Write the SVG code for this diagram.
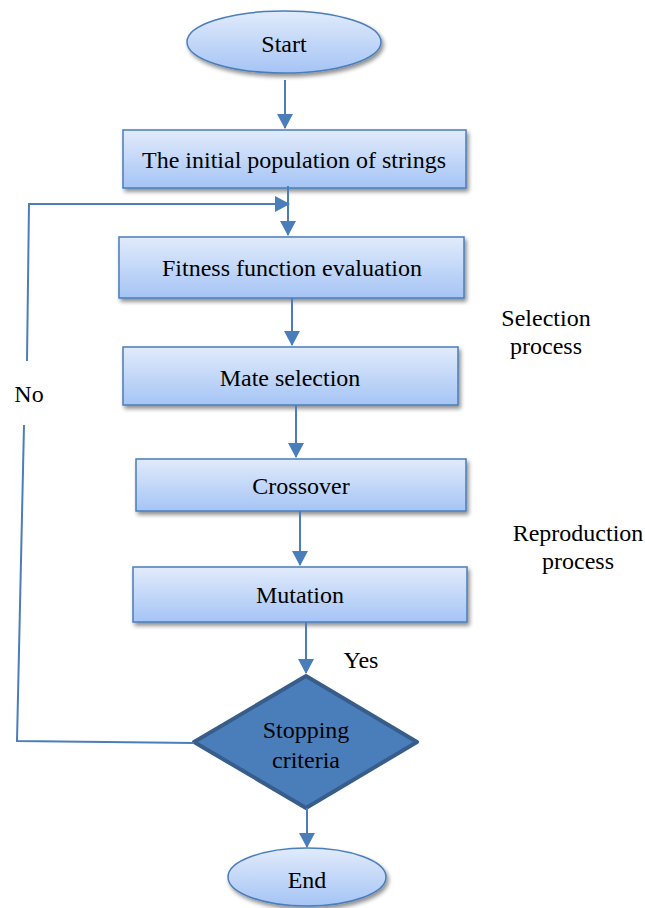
<svg xmlns="http://www.w3.org/2000/svg" width="645" height="908" viewBox="0 0 645 908">
<defs>
<linearGradient id="g" x1="0" y1="0" x2="0" y2="1">
<stop offset="0" stop-color="#e1ebfb"/>
<stop offset="1" stop-color="#a5c4f5"/>
</linearGradient>
<filter id="sh" x="-10%" y="-20%" width="125%" height="150%">
<feGaussianBlur in="SourceAlpha" stdDeviation="2"/>
<feOffset dx="2" dy="3" result="b"/>
<feComponentTransfer><feFuncA type="linear" slope="0.45"/></feComponentTransfer>
<feMerge><feMergeNode/><feMergeNode in="SourceGraphic"/></feMerge>
</filter>
<marker id="ah" markerWidth="16" markerHeight="16" refX="14" refY="8" orient="auto" markerUnits="userSpaceOnUse">
<path d="M0,0 L15,8 L0,16 z" fill="#4a7ebb"/>
</marker>
</defs>
<style>
.box{fill:url(#g);stroke:#4a7ebb;stroke-width:1.5;filter:url(#sh)}
.t{font-family:"Liberation Serif","Times New Roman",serif;font-size:24px;fill:#000;text-anchor:middle}
.c{fill:none;stroke:#4a7ebb;stroke-width:2}
</style>
<g id="start">
<ellipse class="box" cx="284" cy="42" rx="97" ry="31"/>
<text class="t" x="284" y="52">Start</text>
</g>
<g id="init">
<rect class="box" x="123" y="130" width="343" height="58"/>
<text class="t" x="294" y="168">The initial population of strings</text>
</g>
<g id="fitness">
<rect class="box" x="119" y="237" width="345" height="61"/>
<text class="t" x="292" y="276">Fitness function evaluation</text>
</g>
<g id="mate">
<rect class="box" x="123" y="347" width="335" height="58"/>
<text class="t" x="290" y="386">Mate selection</text>
</g>
<g id="crossover">
<rect class="box" x="136" y="459" width="330" height="52"/>
<text class="t" x="301" y="494">Crossover</text>
</g>
<g id="mutation">
<rect class="box" x="133" y="567" width="334" height="55"/>
<text class="t" x="300" y="603">Mutation</text>
</g>
<g id="stop">
<polygon points="306,676 417,742 306,808 194,742" fill="#4a7ebb" stroke="#385d8a" stroke-width="4" stroke-linejoin="round"/>
<text class="t" x="306" y="738">Stopping</text>
<text class="t" x="306" y="768">criteria</text>
</g>
<g id="end">
<ellipse class="box" cx="307" cy="877" rx="79" ry="29"/>
<text class="t" x="307" y="888">End</text>
</g>
<g id="labels">
<text class="t" x="546" y="326">Selection</text>
<text class="t" x="546" y="354">process</text>
<text class="t" x="578" y="541">Reproduction</text>
<text class="t" x="578" y="569">process</text>
<text class="t" x="29" y="402">No</text>
<text class="t" x="361" y="668">Yes</text>
</g>
<g id="connectors">
<line class="c" x1="285" y1="80" x2="285" y2="128" marker-end="url(#ah)"/>
<line class="c" x1="288" y1="186" x2="288" y2="235" marker-end="url(#ah)"/>
<line class="c" x1="292" y1="298" x2="292" y2="345" marker-end="url(#ah)"/>
<line class="c" x1="296" y1="405" x2="296" y2="457" marker-end="url(#ah)"/>
<line class="c" x1="300" y1="511" x2="300" y2="565" marker-end="url(#ah)"/>
<line class="c" x1="306" y1="622" x2="306" y2="673" marker-end="url(#ah)"/>
<line class="c" x1="307" y1="808" x2="307" y2="847" marker-end="url(#ah)"/>
<polyline class="c" points="194,743 17,741 24,425"/>
<polyline class="c" points="27,361 29,204 289,204" marker-end="url(#ah)"/>
</g>
</svg>
